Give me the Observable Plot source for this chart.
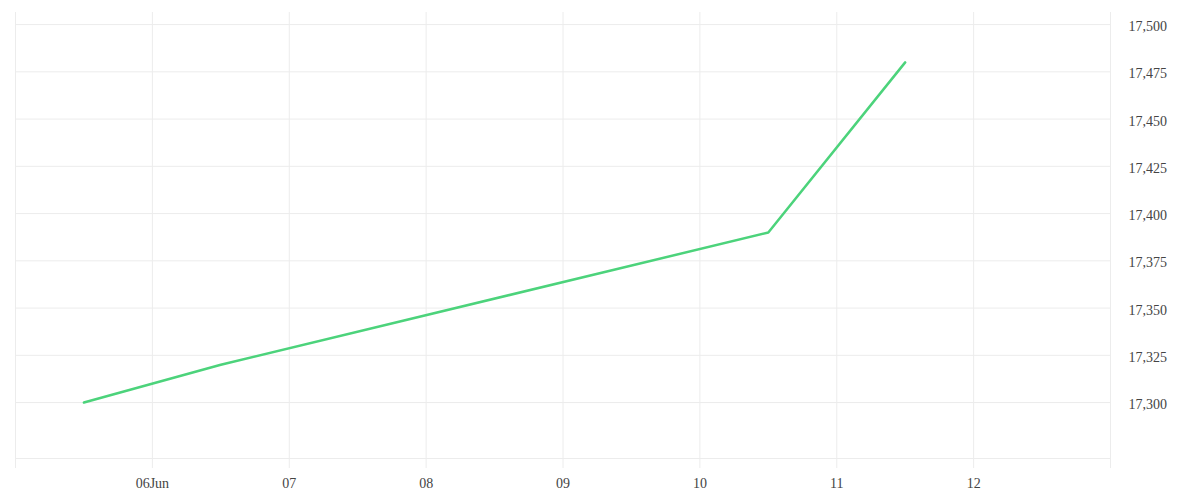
<!DOCTYPE html>
<html>
<head>
<meta charset="utf-8">
<script src="https://cdn.jsdelivr.net/npm/d3@7"></script>
<script src="https://cdn.jsdelivr.net/npm/@observablehq/plot@0.6"></script>
<style>
  html, body { margin: 0; padding: 0; background: #fff; }
  #chart { width: 1200px; height: 500px; }
</style>
</head>
<body>
<div id="chart"></div>
<script>
// ---- data ----
const dates = ["2023-06-05T12:00Z", "2023-06-06T12:00Z", "2023-06-10T12:00Z", "2023-06-11T12:00Z"];
const values = [17300, 17320, 17390, 17480];
const xTickDates = ["2023-06-06", "2023-06-07", "2023-06-08", "2023-06-09", "2023-06-10", "2023-06-11", "2023-06-12"];
const xTickLabels = ["06Jun", "07", "08", "09", "10", "11", "12"];
const yTicks = [17300, 17325, 17350, 17375, 17400, 17425, 17450, 17475, 17500];
const xDomain = ["2023-06-05", "2023-06-13"];
const yDomain = [17270.4, 17506.4];

const data = dates.map((d, i) => ({date: new Date(d), value: values[i]}));
const xTicks = xTickDates.map(d => new Date(d + "T00:00Z"));
const xDom = xDomain.map(d => new Date(d + "T00:00Z"));
const gridDays = d3.utcDay.range(xDom[0], d3.utcDay.offset(xDom[1], 1));

const chart = Plot.plot({
  width: 1200,
  height: 500,
  marginLeft: 15,
  marginRight: 90,
  marginTop: 12,
  marginBottom: 42,
  style: {fontFamily: "'Liberation Serif', serif", fontSize: "14px", color: "#444", background: "#fff"},
  x: {type: "utc", domain: xDom},
  y: {domain: yDomain},
  marks: [
    Plot.ruleY(yTicks, {stroke: "#ececec", strokeWidth: 1}),
    Plot.ruleY([yDomain[0]], {stroke: "#ececec", strokeWidth: 1}),
    Plot.ruleX(gridDays, {stroke: "#ececec", strokeWidth: 1, insetBottom: -10}),
    Plot.axisX({ticks: xTicks, tickSize: 0, tickPadding: 20,
      tickFormat: (d) => xTickLabels[xTicks.findIndex(t => +t === +d)], fontSize: 14}),
    Plot.axisY({anchor: "right", ticks: yTicks, tickSize: 0, tickPadding: 18, dy: 2,
      tickFormat: d3.format(","), textAnchor: "start", label: null, fontSize: 14}),
    Plot.line(data, {x: "date", y: "value", stroke: "#4cd37b", strokeWidth: 2.5})
  ]
});
document.getElementById("chart").appendChild(chart);
</script>
</body>
</html>
